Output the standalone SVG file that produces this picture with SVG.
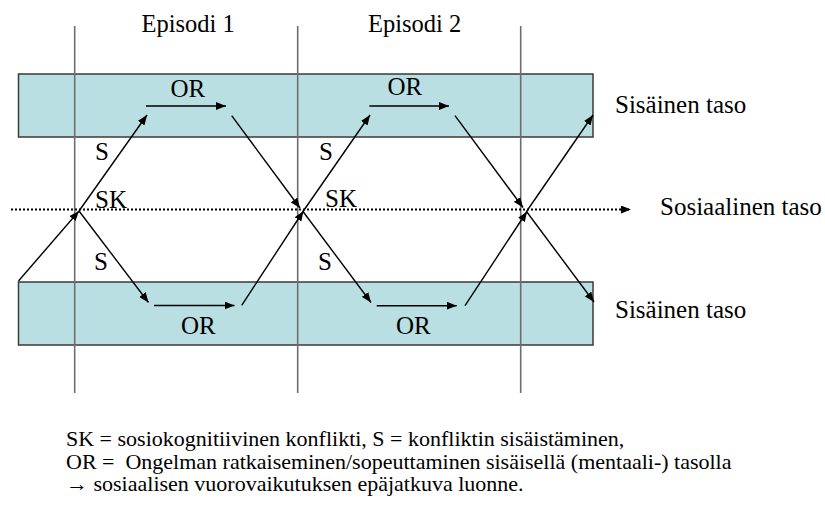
<svg xmlns="http://www.w3.org/2000/svg" width="825" height="508" viewBox="0 0 825 508">
  <style>
    .band { fill: #b9dfe2; stroke: #3a3a3a; stroke-width: 1.5; }
    .guide { stroke: #6e6e6e; stroke-width: 1.6; fill: none; }
    .flow { stroke: #000; stroke-width: 1.4; fill: none; }
    .social { stroke: #000; stroke-width: 2; stroke-dasharray: 2 2; fill: none; }
    text { font-family: "Liberation Serif", "Times New Roman", serif; fill: #000; }
    .lbl { font-size: 25px; }
    .title { font-size: 24.5px; }
    .note { font-size: 22px; }
  </style>
  <defs>
    <marker id="head" viewBox="0 0 10 8" refX="10" refY="4" markerWidth="10" markerHeight="8" markerUnits="userSpaceOnUse" orient="auto">
      <path d="M0,0 L10,4 L0,8 Z" fill="#000"/>
    </marker>
  </defs>

  <!-- inner levels -->
  <g id="inner-top">
    <rect class="band" x="18.5" y="74" width="574.5" height="63"/>
    <text class="lbl" x="615" y="113">Sisäinen taso</text>
  </g>
  <g id="inner-bottom">
    <rect class="band" x="18.5" y="282" width="574.5" height="63"/>
    <text class="lbl" x="615" y="318">Sisäinen taso</text>
  </g>

  <!-- episode boundaries -->
  <g id="episode-1">
    <line class="guide" x1="74.7" y1="26" x2="74.7" y2="393"/>
    <text class="title" x="141.5" y="32">Episodi 1</text>
  </g>
  <g id="episode-2">
    <line class="guide" x1="297.7" y1="26" x2="297.7" y2="393"/>
    <text class="title" x="368" y="32">Episodi 2</text>
  </g>
  <g id="episode-end">
    <line class="guide" x1="520.7" y1="26" x2="520.7" y2="393"/>
  </g>

  <!-- social level -->
  <g id="social-level">
    <text class="lbl" x="660" y="215">Sosiaalinen taso</text>
  </g>

  <g id="connectors">
    <line class="social" x1="11" y1="209.5" x2="631" y2="209.5" marker-end="url(#head)"/>

    <!-- episode 1 -->
    <line class="flow" x1="18.5" y1="281" x2="79" y2="211" marker-end="url(#head)"/>
    <line class="flow" x1="79" y1="211" x2="147" y2="115" marker-end="url(#head)"/>
    <line class="flow" x1="146" y1="106" x2="226" y2="106" marker-end="url(#head)"/>
    <line class="flow" x1="231.7" y1="115.7" x2="300" y2="208" marker-end="url(#head)"/>
    <line class="flow" x1="79" y1="211" x2="148.5" y2="302.5" marker-end="url(#head)"/>
    <line class="flow" x1="154" y1="305.5" x2="234.5" y2="305.5" marker-end="url(#head)"/>
    <line class="flow" x1="241.7" y1="305.3" x2="303.5" y2="211" marker-end="url(#head)"/>

    <!-- episode 2 -->
    <line class="flow" x1="303" y1="211.5" x2="370" y2="115" marker-end="url(#head)"/>
    <line class="flow" x1="369.3" y1="106" x2="449" y2="106" marker-end="url(#head)"/>
    <line class="flow" x1="455" y1="115.7" x2="523" y2="207.5" marker-end="url(#head)"/>
    <line class="flow" x1="303" y1="211.5" x2="371" y2="302.5" marker-end="url(#head)"/>
    <line class="flow" x1="376.7" y1="305.7" x2="456.7" y2="305.7" marker-end="url(#head)"/>
    <line class="flow" x1="465" y1="305.7" x2="527" y2="211.5" marker-end="url(#head)"/>

    <!-- episode 3 start -->
    <line class="flow" x1="526.5" y1="211.5" x2="593" y2="115" marker-end="url(#head)"/>
    <line class="flow" x1="526.5" y1="211.5" x2="594" y2="302" marker-end="url(#head)"/>
  </g>

  <g id="flow-labels">
    <text class="lbl" x="170.5" y="96.5">OR</text>
    <text class="lbl" x="387.5" y="95">OR</text>
    <text class="lbl" x="181" y="334">OR</text>
    <text class="lbl" x="396" y="334">OR</text>
    <text class="lbl" x="95" y="160">S</text>
    <text class="lbl" x="95" y="208">SK</text>
    <text class="lbl" x="94" y="270">S</text>
    <text class="lbl" x="319" y="160">S</text>
    <text class="lbl" x="325" y="207">SK</text>
    <text class="lbl" x="318" y="270">S</text>
  </g>

  <g id="legend">
    <text class="note" x="66" y="446">SK = sosiokognitiivinen konflikti, S = konfliktin sisäistäminen,</text>
    <text class="note" x="66" y="469" xml:space="preserve">OR =  Ongelman ratkaiseminen/sopeuttaminen sisäisellä (mentaali-) tasolla</text>
    <text class="note" x="66" y="491">→ sosiaalisen vuorovaikutuksen epäjatkuva luonne.</text>
  </g>
</svg>
